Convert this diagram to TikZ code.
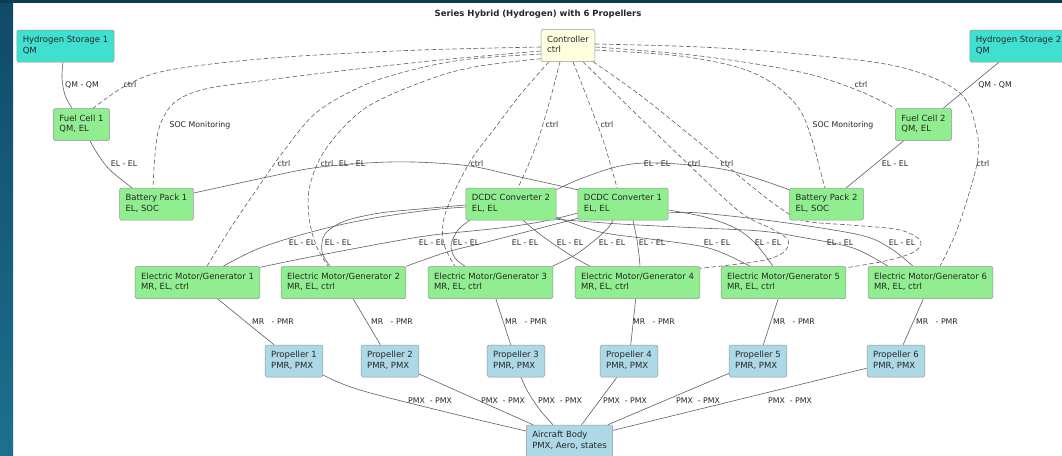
\documentclass[tikz,border=0pt]{standalone}
\usepackage{fontspec}
\setmainfont{DejaVu Sans}
\usetikzlibrary{calc,backgrounds}

\definecolor{hydro}{HTML}{40E0D0}
\definecolor{pgreen}{HTML}{90EE90}
\definecolor{pblue}{HTML}{ADD8E6}
\definecolor{pyellow}{HTML}{FFFFE0}
\definecolor{framedark}{RGB}{14,58,82}
\definecolor{frametop}{RGB}{17,74,104}
\definecolor{framebot}{RGB}{28,112,142}
\definecolor{edgegray}{RGB}{95,95,95}
\definecolor{boxline}{RGB}{150,150,150}

\tikzset{
  box/.style={draw=boxline, line width=0.5pt, rounded corners=1.5pt, align=left,
    inner xsep=6pt, inner ysep=5.8pt, font=\fontsize{8.5}{10.2}\selectfont, text=black!85},
  storage/.style={box, fill=hydro},
  unit/.style={box, fill=pgreen},
  prop/.style={box, fill=pblue},
  ctrlbox/.style={box, fill=pyellow},
  link/.style={draw=edgegray, line width=0.6pt},
  signal/.style={link, dash pattern=on 4.5pt off 2.5pt},
  lbl/.style={font=\fontsize{7.8}{9}\selectfont, text=black!85, inner sep=0pt}
}

\begin{document}
\begin{tikzpicture}[x=1pt,y=-1pt]
\useasboundingbox (0,0) rectangle (1062,455);

% title
\node[font=\bfseries\fontsize{8.5}{10}\selectfont, text=black!85, inner sep=0pt] (title) at (538,14)
  {Series Hybrid (Hydrogen) with 6 Propellers};

% components
\node[storage] (hs1) at (65.5,46)    {\strut Hydrogen Storage 1\\\strut QM};
\node[ctrlbox] (ctrl) at (568,45.5)  {\strut Controller\\\strut ctrl};
\node[storage] (hs2) at (1018.5,46)  {\strut Hydrogen Storage 2\\\strut QM};
\node[unit] (fc1) at (81.5,124.5)    {\strut Fuel Cell 1\\\strut QM, EL};
\node[unit] (fc2) at (923.5,124.5)   {\strut Fuel Cell 2\\\strut QM, EL};
\node[unit] (bp1) at (156.5,204)     {\strut Battery Pack 1\\\strut EL, SOC};
\node[unit] (dc2) at (511,204)       {\strut DCDC Converter 2\\\strut EL, EL};
\node[unit] (dc1) at (623,204)       {\strut DCDC Converter 1\\\strut EL, EL};
\node[unit] (bp2) at (826.5,204)     {\strut Battery Pack 2\\\strut EL, SOC};
\node[unit] (m1) at (197.5,282.5)    {\strut Electric Motor/Generator 1\\\strut MR, EL, ctrl};
\node[unit] (m2) at (343.5,282.5)    {\strut Electric Motor/Generator 2\\\strut MR, EL, ctrl};
\node[unit] (m3) at (490.5,282.5)    {\strut Electric Motor/Generator 3\\\strut MR, EL, ctrl};
\node[unit] (m4) at (637.5,282.5)    {\strut Electric Motor/Generator 4\\\strut MR, EL, ctrl};
\node[unit] (m5) at (783.5,282.5)    {\strut Electric Motor/Generator 5\\\strut MR, EL, ctrl};
\node[unit] (m6) at (930.5,282.5)    {\strut Electric Motor/Generator 6\\\strut MR, EL, ctrl};
\node[prop] (p1) at (294,361)        {\strut Propeller 1\\\strut PMR, PMX};
\node[prop] (p2) at (390,361)        {\strut Propeller 2\\\strut PMR, PMX};
\node[prop] (p3) at (516,361)        {\strut Propeller 3\\\strut PMR, PMX};
\node[prop] (p4) at (629,361)        {\strut Propeller 4\\\strut PMR, PMX};
\node[prop] (p5) at (758,361)        {\strut Propeller 5\\\strut PMR, PMX};
\node[prop] (p6) at (896,361)        {\strut Propeller 6\\\strut PMR, PMX};
\node[prop] (ac) at (569.5,441)      {\strut Aircraft Body\\\strut PMX, Aero, states};

% connector labels
\node[lbl] (lq1) at (82,85)   {QM - QM};
\node[lbl] (lq2) at (995,85)  {QM - QM};
\node[lbl] (lc1) at (130,85)  {ctrl};
\node[lbl] (lc2) at (861,85)  {ctrl};
\node[lbl] (ls1) at (200,125) {SOC Monitoring};
\node[lbl] (ls2) at (843,125) {SOC Monitoring};
\node[lbl] (lc3) at (552,125) {ctrl};
\node[lbl] (lc4) at (607,125) {ctrl};
\node[lbl] (le1) at (124,164) {EL - EL};
\node[lbl] (le2) at (352,164) {EL - EL};
\node[lbl] (le3) at (657,164) {EL - EL};
\node[lbl] (le4) at (895,164) {EL - EL};
\node[lbl] (lc5) at (284,164) {ctrl};
\node[lbl] (lc6) at (327,164) {ctrl};
\node[lbl] (lc7) at (477,164) {ctrl};
\node[lbl] (lc8) at (694,164) {ctrl};
\node[lbl] (lc9) at (727,164) {ctrl};
\node[lbl] (lc10) at (983,164) {ctrl};
\foreach \x [count=\i] in {302,338,432,466,525,570,612,652,717,768,840,902}
  \node[lbl] (lel\i) at (\x,243) {EL - EL};
\foreach \x [count=\i] in {273,392,526,654,794,937}
  \node[lbl] (lmr\i) at (\x,322) {MR\ \ \ - PMR};
\foreach \x [count=\i] in {430,503,560,625,698,790}
  \node[lbl] (lpx\i) at (\x,401) {PMX\ \ - PMX};

\begin{scope}[on background layer]
% canvas and frame
\fill[white] (0,0) rectangle (1062,455);
\shade[top color=frametop, bottom color=framebot] (0,0) rectangle (13,455);
\fill[framedark] (0,0) rectangle (1062,3);

% control signals from the controller
\draw[signal] plot[smooth, tension=0.55] coordinates {($(ctrl.west)+(0,1.5)$) (420,50) (300,56) (220,63) (160,72) (125,86) ($(fc1.north)+(11.5,0)$)};
\draw[signal] plot[smooth, tension=0.55] coordinates {($(ctrl.west)+(0,5.5)$) (440,60) (340,71) (260,81) (205,89) (175,102) (160,125) (155,155) ($(bp1.north)+(-3.5,0)$)};
\draw[signal] plot[smooth, tension=0.55] coordinates {($(ctrl.west)+(0,8.5)$) (470,59) (420,68) (367,84) (317,112) (283,152) (255,192) (230,229) ($(m1.north)+(9.5,0)$)};
\draw[signal] plot[smooth, tension=0.55] coordinates {($(ctrl.south west)+(0,-3)$) (480,66) (433,78) (367,107) (327,147) (310,185) (309,217) (316,245) ($(m2.north)+(-15.5,0)$)};
\draw[signal] plot[smooth, tension=0.55] coordinates {($(ctrl.south west)+(8,0)$) (520,95) (495,128) (473,157) (455,190) (444,218) (443,240) (449,256) ($(m3.north)+(-35.5,0)$)};
\draw[signal] plot[smooth, tension=0.55] coordinates {($(ctrl.south)+(-8,0)$) (550,100) (538,140) (527,168) ($(dc2.north)+(7,0)$)};
\draw[signal] plot[smooth, tension=0.55] coordinates {($(ctrl.south)+(5,0)$) (588,100) (603,140) (612,170) ($(dc1.north)+(-6,0)$)};
\draw[signal] plot[smooth, tension=0.55] coordinates {($(ctrl.south)+(15,0)$) (630,108) (687,163) (740,212) (772,229) (788,240) (784,252) (765,260) (730,265) ($(m4.north east)+(0,2)$)};
\draw[signal] plot[smooth, tension=0.55] coordinates {($(ctrl.south east)+(-2,0)$) (640,95) (690,135) (720,160) (750,185) (780,208) (805,221) (850,225) (895,229) (915,236) (921,244) (912,253) (885,261) ($(m5.north east)+(0,1.5)$)};
\draw[signal] plot[smooth, tension=0.55] coordinates {($(ctrl.east)+(0,4.5)$) (680,56) (740,68) (775,85) (800,110) (813,143) (820,170) ($(bp2.north)+(-1.5,0)$)};
\draw[signal] plot[smooth, tension=0.55] coordinates {($(ctrl.east)+(0,1.5)$) (700,56) (800,72) (857,90) (fc2.north west)};
\draw[signal] plot[smooth, tension=0.55] coordinates {($(ctrl.east)+(0,-1.5)$) (700,47) (800,54) (900,67) (960,93) (977,133) (977,163) (967,200) (955,235) ($(m6.north)+(9.5,0)$)};

% hydrogen and fuel cell links
\draw[link] plot[smooth, tension=0.6] coordinates {($(hs1.south)+(-2.5,0)$) (62,78) (65,95) ($(fc1.north)+(-9.5,0)$)};
\draw[link] plot[smooth, tension=0.6] coordinates {($(fc1.south)+(8.5,0)$) (97,153) (110,170) ($(bp1.north)+(-24.5,0)$)};
\draw[link] (hs2) -- (fc2);
\draw[link] (fc2) -- (bp2);

% battery to converter links
\draw[link] plot[smooth, tension=0.55] coordinates {($(bp1.east)+(0,-11)$) (263,178) (313,168) (367,163) (413,162) (470,166) (520,177) ($(dc1.north west)+(0,2)$)};
\draw[link] plot[smooth, tension=0.55] coordinates {($(bp2.north west)+(0,2)$) (727,170) (660,163) (620,166) (580,179) ($(dc2.north east)+(0,2)$)};

% converter to motor links
\draw[link] plot[smooth, tension=0.55] coordinates {($(m1.north)+(25.5,0)$) (255,250) (290,238) (335,226) (380,217) (430,210) ($(dc2.west)+(0,3)$)};
\draw[link] plot[smooth, tension=0.55] coordinates {($(m2.north)+(-13.5,0)$) (322,252) (325,234) (345,221) (380,213) (420,209) ($(dc2.west)+(0,1)$)};
\draw[link] plot[smooth, tension=0.55] coordinates {($(m1.north east)+(0,1)$) (300,259) (347,250) (390,242) (433,235) (500,228) (545,221) ($(dc1.west)+(0,9)$)};
\draw[link] plot[smooth, tension=0.55] coordinates {($(m2.north east)$) (447,252) (483,243) (537,229) ($(dc1.south west)+(0,-2)$)};
\draw[link] plot[smooth, tension=0.55] coordinates {($(dc2.south west)+(4,0)$) (458,230) (451,245) (455,258) ($(m3.north)+(-25.5,0)$)};
\draw[link] plot[smooth, tension=0.55] coordinates {($(dc2.south)+(12,0)$) (537,232) (555,245) (575,258) ($(m4.north)+(-47.5,0)$)};
\draw[link] plot[smooth, tension=0.55] coordinates {($(m3.north east)+(-1,0)$) (575,255) (595,240) (608,228) ($(dc1.south)+(-10,0)$)};
\draw[link] plot[smooth, tension=0.55] coordinates {($(dc1.south)+(10,0)$) (637,240) (639,255) ($(m4.north)+(2.5,0)$)};
\draw[link] plot[smooth, tension=0.55] coordinates {($(dc2.south east)+(0,-3)$) (600,232) (650,239) (700,246) (725,254) ($(m5.north)+(-33.5,0)$)};
\draw[link] plot[smooth, tension=0.55] coordinates {($(dc1.east)+(0,6)$) (705,217) (735,228) (755,243) ($(m5.north)+(-10.5,0)$)};
\draw[link] plot[smooth, tension=0.55] coordinates {($(dc2.south east)+(0,-1)$) (620,224) (700,228) (760,231) (800,237) (853,248) ($(m6.north)+(-42.5,0)$)};
\draw[link] plot[smooth, tension=0.55] coordinates {($(dc1.east)+(0,9)$) (700,213) (780,222) (860,235) (890,248) ($(m6.north)+(-17.5,0)$)};

% motor to propeller links
\foreach \i in {1,...,6} \draw[link] (m\i) -- (p\i);

% propeller to airframe links
\draw[link] plot[smooth, tension=0.6] coordinates {($(p1.east)+(0,14)$) (360,390) (450,413) ($(ac.west)+(0,-10)$)};
\draw[link] (p2) -- (ac);
\draw[link] plot[smooth, tension=0.6] coordinates {($(p3.south)+(5,0)$) (528,392) (540,410) ($(ac.north)+(-16.5,0)$)};
\draw[link] (p4) -- (ac);
\draw[link] (p5) -- (ac);
\draw[link] (p6) -- (ac);
\end{scope}
\end{tikzpicture}
\end{document}
